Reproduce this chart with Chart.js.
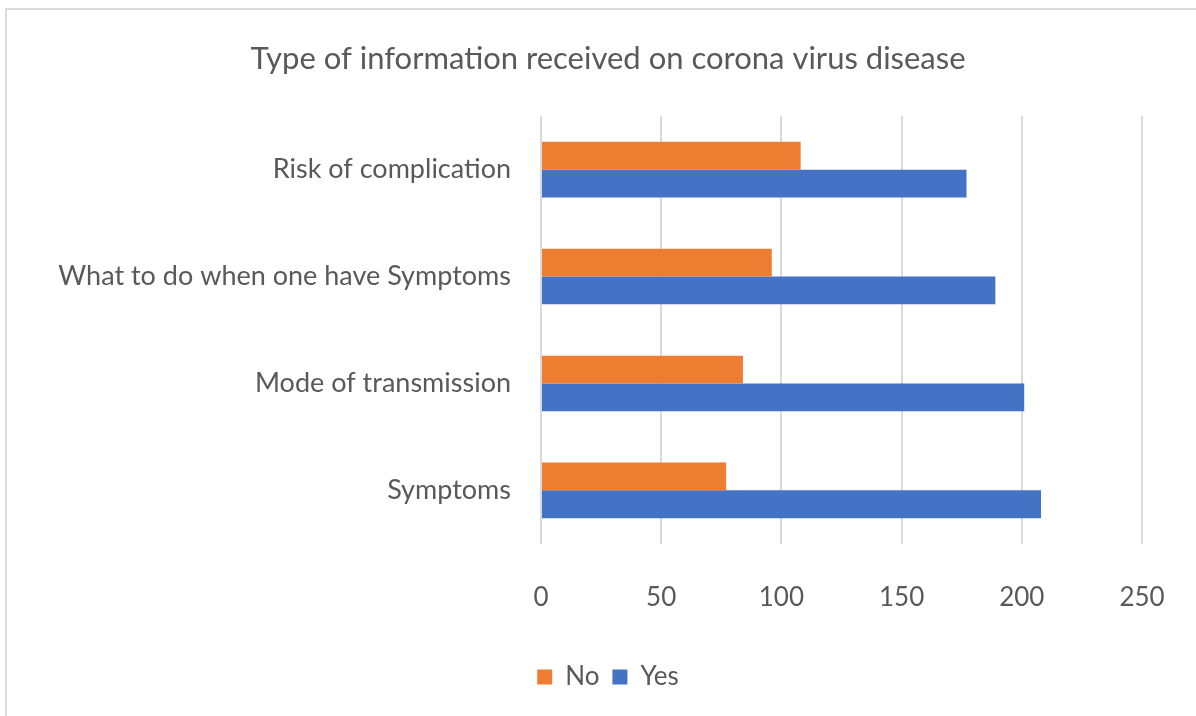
<!DOCTYPE html>
<html>
<head>
<meta charset="utf-8">
<script src="https://cdn.jsdelivr.net/npm/chart.js@4.4.1/dist/chart.umd.min.js"></script>
<style>
  html, body { margin: 0; padding: 0; background: #fff; overflow: hidden; width: 1196px; height: 716px; }
  #frame {
    position: absolute; left: 5px; top: 8px; width: 1191px; height: 708px;
    border-left: 2px solid #d9d9d9; border-top: 2px solid #d9d9d9;
  }
  #wrap { position: absolute; left: 0; top: 0; width: 1216px; height: 716px; }
</style>
</head>
<body>
<div id="frame"></div>
<div id="wrap"><canvas id="myChart" width="1216" height="716"></canvas></div>
<script>
var categories = [
    'Risk of complication',
    'What to do when one have Symptoms',
    'Mode of transmission',
    'Symptoms'
];
var noValues = [108, 96, 84, 77];
var yesValues = [177, 189, 201, 208];
var xTicks = [0, 50, 100, 150, 200, 250];

var textColor = '#595959';
var fontFamily = 'Lato, "Liberation Sans", sans-serif';

var ctx = document.getElementById('myChart').getContext('2d');

var myChart = new Chart(ctx, {
    type: 'bar',
    data: {
        labels: categories,
        datasets: [{
            label: 'No',
            data: noValues,
            backgroundColor: '#ED7D31',
            borderWidth: 0
        }, {
            label: 'Yes',
            data: yesValues,
            backgroundColor: '#4472C4',
            borderWidth: 0
        }]
    },
    options: {
        indexAxis: 'y',
        responsive: false,
        animation: false,
        datasets: {
            bar: {
                categoryPercentage: 0.52,
                barPercentage: 1.0
            }
        },
        layout: {
            padding: { left: 0, right: 0, top: 40, bottom: 16 }
        },
        plugins: {
            title: {
                display: true,
                text: 'Type of information received on corona virus disease',
                color: textColor,
                font: { family: fontFamily, size: 31, weight: 'normal' },
                padding: { top: 0, bottom: 39 }
            },
            legend: {
                position: 'bottom',
                labels: {
                    color: textColor,
                    font: { family: fontFamily, size: 26 },
                    boxWidth: 15,
                    boxHeight: 15,
                    padding: 13
                }
            },
            tooltip: { enabled: false }
        },
        scales: {
            x: {
                min: xTicks[0],
                max: xTicks[xTicks.length - 1],
                afterBuildTicks: function(scale) {
                    scale.ticks = xTicks.map(function(v) { return { value: v }; });
                },
                grid: { color: '#d9d9d9', lineWidth: 2, drawTicks: false },
                border: { display: false },
                ticks: {
                    color: textColor,
                    font: { family: fontFamily, size: 26 },
                    padding: 38
                }
            },
            y: {
                grid: { display: false },
                border: { display: false },
                afterFit: function(scale) {
                    scale.width = 541;
                },
                ticks: {
                    color: textColor,
                    font: { family: fontFamily, size: 27 },
                    padding: 22
                }
            },
            // empty right-hand axis, only reserves space so the plot ends at 250
            spacer: {
                type: 'linear',
                position: 'right',
                grid: { display: false },
                border: { display: false },
                ticks: { display: false },
                afterFit: function(scale) {
                    scale.width = 74;
                }
            }
        }
    }
});
</script>
</body>
</html>
